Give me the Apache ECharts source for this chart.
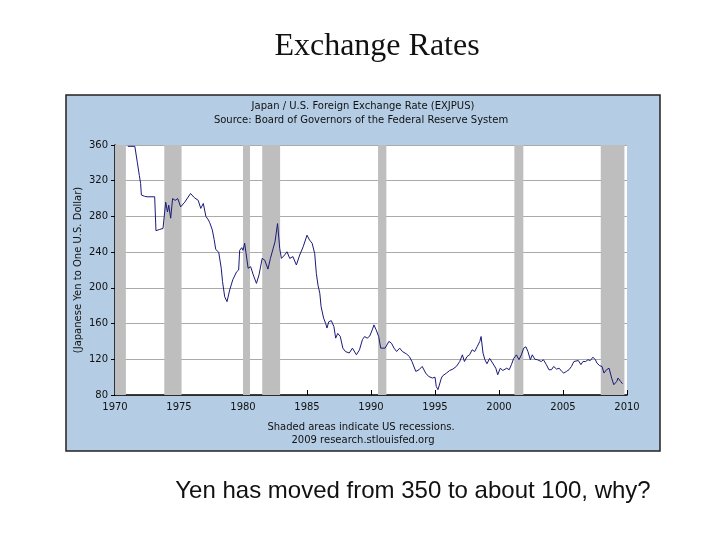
<!DOCTYPE html>
<html>
<head>
<meta charset="utf-8">
<script src="https://cdn.jsdelivr.net/npm/echarts@6/dist/echarts.min.js"></script>
<style>
  html, body { margin: 0; padding: 0; background: #fff; }
  #chart { width: 720px; height: 540px; }
</style>
</head>
<body>
<div id="chart"></div>
<script>
// 数据：日期（小数年份）和日元兑美元汇率
var dates = [
  1971.0, 1971.55, 1971.75, 1971.9, 1972.0, 1972.06, 1972.3, 1972.5, 1973.1, 1973.2,
  1973.5, 1973.75, 1973.96, 1974.1, 1974.2, 1974.35, 1974.5, 1974.7, 1974.9, 1975.0,
  1975.13, 1975.45, 1975.9, 1976.2, 1976.5, 1976.7, 1976.9, 1977.0, 1977.1, 1977.3,
  1977.4, 1977.6, 1977.75, 1977.87, 1978.1, 1978.3, 1978.4, 1978.57, 1978.75, 1978.96,
  1979.2, 1979.5, 1979.66, 1979.74, 1979.9, 1980.0, 1980.13, 1980.27, 1980.4, 1980.6,
  1980.8, 1981.05, 1981.25, 1981.5, 1981.7, 1981.95, 1982.14, 1982.5, 1982.7, 1982.87,
  1983.0, 1983.25, 1983.44, 1983.65, 1983.9, 1984.17, 1984.43, 1984.7, 1985.0, 1985.2,
  1985.4, 1985.6, 1985.73, 1985.86, 1986.0, 1986.1, 1986.3, 1986.46, 1986.56, 1986.7,
  1986.9, 1987.1, 1987.24, 1987.4, 1987.6, 1987.8, 1988.0, 1988.3, 1988.55, 1988.7,
  1988.86, 1989.1, 1989.33, 1989.5, 1989.7, 1989.9, 1990.1, 1990.23, 1990.4, 1990.6,
  1990.76, 1990.9, 1991.1, 1991.4, 1991.6, 1991.8, 1992.0, 1992.24, 1992.45, 1992.77,
  1993.0, 1993.2, 1993.5, 1993.75, 1994.0, 1994.27, 1994.5, 1994.8, 1995.0, 1995.1,
  1995.23, 1995.37, 1995.5, 1995.6, 1995.9, 1996.15, 1996.4, 1996.67, 1996.93, 1997.14,
  1997.3, 1997.5, 1997.7, 1997.9, 1998.1, 1998.3, 1998.5, 1998.6, 1998.75, 1998.9,
  1999.06, 1999.27, 1999.5, 1999.75, 1999.9, 2000.1, 2000.3, 2000.6, 2000.8, 2000.97,
  2001.15, 2001.36, 2001.56, 2001.75, 2001.93, 2002.1, 2002.26, 2002.45, 2002.6, 2002.8,
  2003.0, 2003.3, 2003.47, 2003.7, 2003.9, 2004.1, 2004.27, 2004.5, 2004.7, 2004.9,
  2005.06, 2005.27, 2005.47, 2005.66, 2005.85, 2006.0, 2006.2, 2006.4, 2006.56, 2006.77,
  2006.95, 2007.13, 2007.34, 2007.53, 2007.65, 2007.87, 2008.05, 2008.2, 2008.4, 2008.6,
  2008.8, 2008.97, 2009.2, 2009.3, 2009.5, 2009.65
];
var yenPerDollar = [
  358.5, 358.5, 340, 326, 317, 304, 302.6, 302, 302, 264,
  265.5, 266.5, 296, 285, 292.6, 278, 300, 298, 300, 298,
  290.7, 296, 305.7, 301, 298, 289, 294.5, 292.6, 280, 276,
  273, 265, 254, 243, 240, 222, 207, 190, 184.6, 197.6,
  209, 218, 220, 242, 245, 242, 250, 251.6, 222, 223.7,
  214.6, 205, 214.6, 233, 231, 221, 233, 251.6, 272, 244,
  233, 236.8, 240.4, 233, 235, 225.6, 236.8, 246, 259, 253.5,
  250, 238.6, 216, 203, 194, 179, 166, 160, 155, 162,
  163.3, 156.7, 143.7, 149, 145.5, 132.5, 128.7, 127, 132.5, 134,
  125, 130.6, 142, 145.5, 143.7, 146, 153, 158.5, 153, 145.5,
  132.5, 134, 132.5, 140, 138, 132.5, 128.7, 132.5, 128.7, 126,
  123, 117.5, 106.4, 108.3, 112, 104.6, 100.8, 99, 100, 89.6,
  86, 87.8, 99, 101.5, 104.6, 107.5, 109, 112, 117.5, 125,
  117.5, 123, 125, 130.6, 128.7, 134.3, 140, 145.5, 127, 119.5,
  115, 121, 115.8, 110, 102.7, 110, 107.5, 110, 108.3, 114,
  121, 125, 119.5, 125, 132.5, 134, 128.7, 119.5, 125, 120,
  119.5, 117.5, 119.5, 114, 108.3, 108.3, 112, 109, 110, 106.4,
  104.6, 106.4, 108.3, 112, 117.5, 115.8, 118.6, 114, 117.5, 117.5,
  119.5, 118.6, 122.4, 119.5, 115.8, 112.8, 112, 104.6, 108.3, 110,
  99, 91.5, 95.2, 99, 95.2, 92.6
];
// 美国经济衰退区间
var recessionStart = [1970.0, 1973.85, 1980.0, 1981.5, 1990.55, 2001.2, 2007.95];
var recessionEnd = [1970.85, 1975.2, 1980.55, 1982.9, 1991.2, 2001.9, 2009.8];
var yTicks = [80, 120, 160, 200, 240, 280, 320, 360];

var chart = echarts.init(document.getElementById('chart'));
var axisFont = 'DejaVu Sans';

var lineData = dates.map(function (d, i) { return [d, yenPerDollar[i]]; });
var recessionAreas = recessionStart.map(function (s, i) {
  return [{ xAxis: s }, { xAxis: recessionEnd[i] }];
});

function label(text, x, y, font) {
  return {
    type: 'text',
    z: 10,
    style: {
      text: text, x: x, y: y, font: font, fill: '#111',
      align: 'center', verticalAlign: 'middle',
      textAlign: 'center', textVerticalAlign: 'middle'
    }
  };
}

var option = {
  animation: false,
  backgroundColor: '#fff',
  graphic: [
    {
      type: 'rect', z: -10,
      shape: { x: 66, y: 95, width: 594, height: 356 },
      style: { fill: '#b4cde4', stroke: '#222', lineWidth: 1.5 }
    },
    label('Exchange Rates', 377, 47, '32px "Liberation Serif"'),
    label('Japan / U.S. Foreign Exchange Rate (EXJPUS)', 363, 106, '10px "DejaVu Sans"'),
    label('Source: Board of Governors of the Federal Reserve System', 361, 120, '10px "DejaVu Sans"'),
    label('Shaded areas indicate US recessions.', 361, 427, '10px "DejaVu Sans"'),
    label('2009 research.stlouisfed.org', 363, 440, '10px "DejaVu Sans"'),
    label('Yen has moved from 350 to about 100, why?', 413, 491, '24px "Liberation Sans"')
  ],
  grid: {
    left: 115, right: 93, top: 145, bottom: 145,
    show: true, backgroundColor: '#fff', borderWidth: 0
  },
  xAxis: {
    type: 'value',
    min: 1970, max: 2010, interval: 5,
    axisLine: { lineStyle: { color: '#000', width: 1.5 } },
    axisTick: { inside: true, length: 5, lineStyle: { color: '#000' } },
    axisLabel: {
      color: '#111', fontFamily: axisFont, fontSize: 10, margin: 7,
      formatter: function (v) { return String(v); }
    },
    splitLine: { show: false }
  },
  yAxis: {
    type: 'value',
    min: yTicks[0], max: yTicks[yTicks.length - 1], interval: 40,
    name: '(Japanese Yen to One U.S. Dollar)',
    nameLocation: 'middle',
    nameGap: 32,
    nameMoveOverlap: false,
    nameTextStyle: { color: '#111', fontFamily: axisFont, fontSize: 10 },
    axisLine: { show: true, lineStyle: { color: '#000', width: 1.5 } },
    axisTick: { show: true, length: 4, lineStyle: { color: '#000' } },
    axisLabel: { color: '#111', fontFamily: axisFont, fontSize: 10, margin: 7 },
    splitLine: { lineStyle: { color: '#aaaaaa', width: 1 } }
  },
  series: [{
    type: 'line',
    data: lineData,
    symbol: 'none',
    lineStyle: { color: '#1a1a78', width: 1 },
    markArea: {
      silent: true,
      itemStyle: { color: '#bebebe' },
      data: recessionAreas
    }
  }]
};
chart.setOption(option);
</script>
</body>
</html>
